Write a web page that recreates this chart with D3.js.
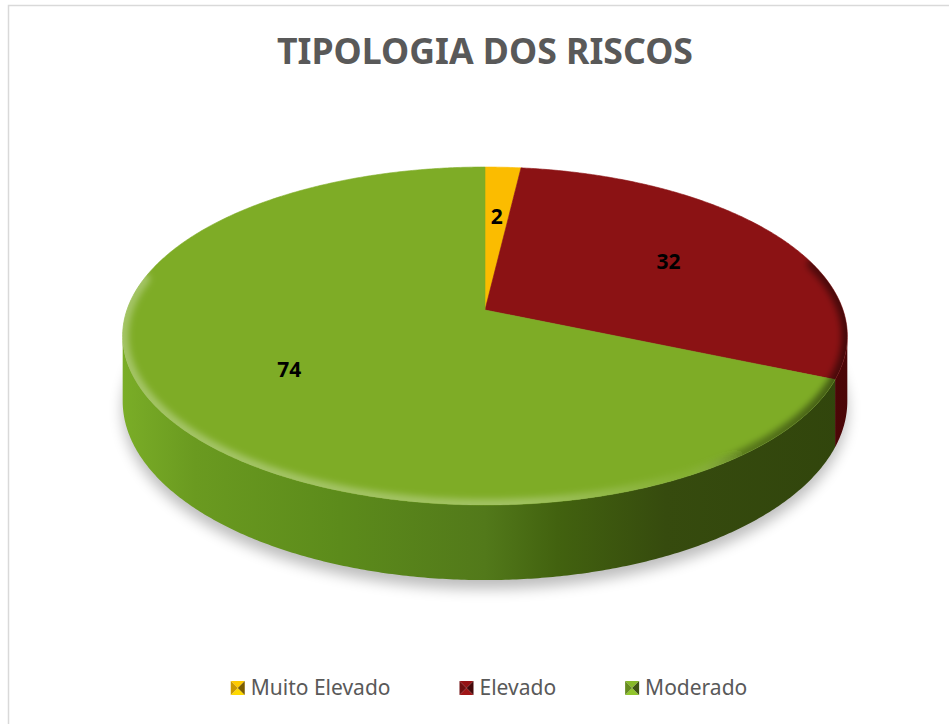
<!DOCTYPE html>
<html lang="pt">
<head>
    <meta charset="UTF-8">
    <title>Tipologia dos riscos</title>
    <script src="https://cdnjs.cloudflare.com/ajax/libs/d3/7.8.5/d3.min.js"></script>
    <style>
        html, body { margin: 0; padding: 0; background: #fff; }
        svg { display: block; }
    </style>
</head>
<body>
    <div id="wrapper"></div>
    <script>
        // 1. dados
        const title = 'TIPOLOGIA DOS RISCOS'
        const categories = ['Muito Elevado', 'Elevado', 'Moderado']
        const values = [2, 32, 74]
        const colors = ['#fbbc00', '#8b1214', '#7eac26']

        const data = categories.map((c, i) => ({ name: c, value: values[i], color: colors[i] }))

        // 2. dimensões
        const dimensions = {
            width: 949,
            height: 724,
            cx: 485,
            cy: 310,
            rx: 358,     // raio horizontal
            ry: 165,     // raio vertical (inclinação)
            depth: 63.5, // espessura
            persp: 0.154 // fator de perspetiva
        }

        const wrapper = d3.select('#wrapper')
            .append('svg')
                .attr('width', dimensions.width)
                .attr('height', dimensions.height)

        const defs = wrapper.append('defs')

        wrapper.append('rect')
            .attr('x', 8.5)
            .attr('y', 5.5)
            .attr('width', 960)
            .attr('height', 740)
            .attr('fill', '#fff')
            .attr('stroke', '#d9d9d9')
            .attr('stroke-width', 1.5)

        // 3. projeção 3D -> ecrã
        // ângulo no sentido do relógio a partir das 12h (como d3.pie), r em fração do raio, h em fração da espessura
        const project = (angle, r = 1, h = 0) => {
            const x3 = Math.sin(angle) * r
            const z3 = Math.cos(angle) * r
            const s = 1 / (1 + dimensions.persp * z3)
            return [
                dimensions.cx + dimensions.rx * x3 * s,
                dimensions.cy - dimensions.ry * z3 * s + h * dimensions.depth * s
            ]
        }
        const arcPoints = (a0, a1, h = 0) => {
            const n = Math.max(2, Math.ceil(Math.abs(a1 - a0) / (Math.PI / 360)))
            return d3.range(n + 1).map(i => project(a0 + (a1 - a0) * i / n, 1, h))
        }
        const line = d3.line()

        const pie = d3.pie().sort(null).value(d => d.value)
        const arcs = pie(data)

        // limites visíveis da parede lateral (silhueta com perspetiva)
        const sideStart = Math.acos(-dimensions.persp)
        const sideEnd = 2 * Math.PI - sideStart
        const [leftX] = project(sideEnd)
        const [rightX] = project(sideStart)

        // 4. gradientes e filtros
        const sideStops = {
            '#7eac26': ['#7aad27', '#6a9a20', '#5c8b1b', '#52791a', '#42620f', '#364b0e', '#31450c'],
            '#8b1214': ['#8b1214', '#7d1012', '#720e10', '#650c0e', '#5a0a0b', '#6a0c0e', '#4a0607'],
            '#fbbc00': ['#fbbc00', '#e0a800', '#c89400', '#b08200', '#8a6600', '#705200', '#5a4200']
        }
        const stopOffsets = [0, 0.1, 0.3, 0.5, 0.6, 0.75, 1]
        data.forEach((d, i) => {
            const g = defs.append('linearGradient')
                .attr('id', `side-${i}`)
                .attr('gradientUnits', 'userSpaceOnUse')
                .attr('x1', leftX).attr('x2', rightX)
                .attr('y1', 0).attr('y2', 0)
            g.selectAll('stop')
                .data(sideStops[d.color])
                .join('stop')
                    .attr('offset', (c, j) => stopOffsets[j])
                    .attr('stop-color', c => c)
        })

        const bevel = defs.append('linearGradient')
            .attr('id', 'bevel')
            .attr('gradientUnits', 'userSpaceOnUse')
            .attr('x1', leftX).attr('x2', rightX)
            .attr('y1', 0).attr('y2', 0)
        bevel.selectAll('stop')
            .data([
                { o: 0, c: '#ffffff', a: 0.3 },
                { o: 0.55, c: '#ffffff', a: 0.28 },
                { o: 0.78, c: '#ffffff', a: 0.05 },
                { o: 0.86, c: '#000000', a: 0.3 },
                { o: 1, c: '#000000', a: 0.5 }
            ])
            .join('stop')
                .attr('offset', d => d.o)
                .attr('stop-color', d => d.c)
                .attr('stop-opacity', d => d.a)

        defs.append('filter')
            .attr('id', 'shadow-blur')
            .attr('x', '-20%').attr('y', '-20%')
            .attr('width', '140%').attr('height', '140%')
            .append('feGaussianBlur')
                .attr('stdDeviation', 7)

        defs.append('filter')
            .attr('id', 'bevel-blur')
            .attr('x', '-10%').attr('y', '-10%')
            .attr('width', '120%').attr('height', '120%')
            .append('feGaussianBlur')
                .attr('stdDeviation', 3)

        const topOutline = arcPoints(0, 2 * Math.PI)
        defs.append('clipPath')
            .attr('id', 'top-clip')
            .append('path')
                .attr('d', line(topOutline) + 'Z')

        // 5. título
        wrapper.append('text')
            .attr('x', dimensions.cx)
            .attr('y', 64)
            .attr('text-anchor', 'middle')
            .attr('fill', '#595959')
            .style('font-family', '"Noto Sans", "Open Sans", sans-serif')
            .style('font-weight', 700)
            .style('font-size', '35px')
            .attr('textLength', 416)
            .attr('lengthAdjust', 'spacingAndGlyphs')
            .text(title)

        // 6. sombra
        const bottomOutline = arcPoints(0, 2 * Math.PI, 1)
        wrapper.append('path')
            .attr('d', line(bottomOutline) + 'Z')
            .attr('transform', 'translate(0,9)')
            .attr('fill', '#000')
            .attr('opacity', 0.26)
            .attr('filter', 'url(#shadow-blur)')

        // 7. paredes laterais visíveis
        const sides = wrapper.append('g')
        arcs.forEach((d, i) => {
            const a0 = Math.max(d.startAngle, sideStart)
            const a1 = Math.min(d.endAngle, sideEnd)
            if (a1 <= a0) return
            const pts = arcPoints(a0, a1, 0).concat(arcPoints(a1, a0, 1))
            sides.append('path')
                .attr('d', line(pts) + 'Z')
                .attr('fill', `url(#side-${i})`)
        })

        // 8. faces superiores
        const tops = wrapper.append('g')
        tops.selectAll('path')
            .data(arcs)
            .join('path')
                .attr('d', d => line([project(0, 0)].concat(arcPoints(d.startAngle, d.endAngle))) + 'Z')
                .attr('fill', d => d.data.color)
                .attr('stroke', d => d.data.color)
                .attr('stroke-width', 0.6)

        // bisel só na borda da frente da face superior
        wrapper.append('g')
            .attr('clip-path', 'url(#top-clip)')
            .append('path')
                .attr('d', line(arcPoints(sideStart - 0.45, sideEnd + 0.35)))
                .attr('fill', 'none')
                .attr('stroke', 'url(#bevel)')
                .attr('stroke-width', 12)
                .attr('stroke-linecap', 'round')
                .attr('filter', 'url(#bevel-blur)')

        // 9. rótulos
        wrapper.append('g')
            .selectAll('text')
            .data(arcs)
            .join('text')
                .attr('transform', d => {
                    const [x, y] = project((d.startAngle + d.endAngle) / 2, 0.62)
                    return `translate(${x},${y})`
                })
                .attr('text-anchor', 'middle')
                .attr('dy', '0.35em')
                .attr('fill', '#000')
                .style('font-family', '"Noto Sans", sans-serif')
                .style('font-weight', 700)
                .style('font-size', '21px')
                .text(d => d.data.value)

        // 10. legenda
        const legend = wrapper.append('g')
        const itemGap = 69
        const markerSize = 14
        const textGap = 6
        let cursor = 0
        data.forEach(d => {
            const g = legend.append('g')
            const t = g.append('text')
                .attr('x', markerSize + textGap)
                .attr('y', 0)
                .attr('fill', '#595959')
                .style('font-family', '"Noto Sans", sans-serif')
                .style('font-size', '21px')
                .text(d.name)
            const w = markerSize + textGap + t.node().getComputedTextLength()
            g.attr('transform', `translate(${cursor},0)`)
            // marcador em pirâmide (4 triângulos)
            const c = d3.color(d.color)
            const s = markerSize
            const tri = [
                { p: [[0, 0], [s, 0], [s / 2, s / 2]], f: c.brighter(0.2) },
                { p: [[0, s], [s, s], [s / 2, s / 2]], f: c.brighter(0.4) },
                { p: [[0, 0], [0, s], [s / 2, s / 2]], f: c.darker(0.6) },
                { p: [[s, 0], [s, s], [s / 2, s / 2]], f: c.darker(2) }
            ]
            g.selectAll('path')
                .data(tri)
                .join('path')
                    .attr('d', t => line(t.p) + 'Z')
                    .attr('transform', `translate(0,${-s})`)
                    .attr('fill', t => t.f)
            cursor += w + itemGap
        })
        const legendWidth = cursor - itemGap
        legend.attr('transform', `translate(${489 - legendWidth / 2},695)`)
    </script>
</body>
</html>
